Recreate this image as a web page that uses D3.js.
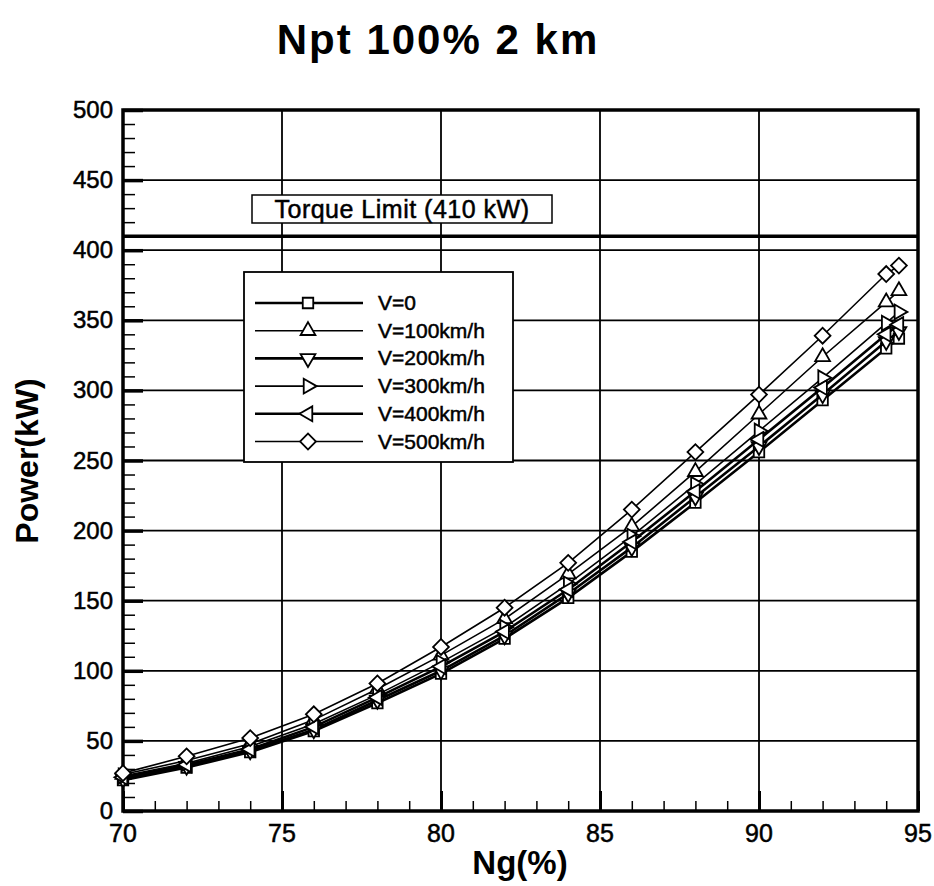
<!DOCTYPE html>
<html>
<head>
<meta charset="utf-8" />
<script src="https://cdn.jsdelivr.net/npm/d3@7"></script>
<style>
  body { margin: 0; background: #fff; }
  svg { display: block; font-family: "Liberation Sans", Arial, sans-serif; }
  .heavy { stroke: #000; stroke-width: 0.5px; }
</style>
</head>
<body>
<div id="chart-container"></div>
<script>
// Ng (%) sample points
const ng = [70, 72, 74, 76, 78, 80, 82, 84, 86, 88, 90, 92, 94, 94.4];

// Power (kW) per flight speed
const v0 = [22, 31, 42, 57, 77, 98, 123, 152, 185, 220, 256, 293, 330, 337];
const v100 = [26, 36, 48, 65, 87, 111, 137, 169, 203, 242, 283, 324, 363, 371];
const v200 = [23, 32, 43, 58, 79, 100, 125, 155, 188, 224, 260, 297, 335, 342];
const v300 = [25, 34, 46, 62, 83, 106, 131, 162, 196, 233, 271, 309, 348, 356];
const v400 = [24, 33, 44, 60, 81, 103, 128, 158, 192, 228, 265, 302, 340, 347];
const v500 = [27, 39, 52, 69, 91, 117, 145, 177, 215, 256, 297, 339, 383, 389];

const seriesNames = ["V=0", "V=100km/h", "V=200km/h", "V=300km/h", "V=400km/h", "V=500km/h"];
const seriesValues = [v0, v100, v200, v300, v400, v500];

const xTicks = [70, 75, 80, 85, 90, 95];
const yTicks = [0, 50, 100, 150, 200, 250, 300, 350, 400, 450, 500];
const torqueLimit = 410;

const W = 934,
  H = 886,
  margin = { top: 110, right: 16, bottom: 75, left: 123 };
const width = W - margin.left - margin.right,
  height = H - margin.top - margin.bottom;

const svg = d3
  .select("#chart-container")
  .append("svg")
  .attr("width", W)
  .attr("height", H);

const g = svg.append("g").attr("transform", `translate(${margin.left},${margin.top})`);

const xScale = d3.scaleLinear().domain([70, 95]).range([0, width]);
const yScale = d3.scaleLinear().domain([0, 500]).range([height, 0]);

// Title
svg
  .append("text")
  .attr("x", 438)
  .attr("y", 54)
  .attr("text-anchor", "middle")
  .style("font-size", "42px")
  .style("font-weight", "bold")
  .style("letter-spacing", "2px")
  .text("Npt 100% 2 km");

// Grid lines
g.append("g")
  .selectAll("line")
  .data(xTicks.slice(1, -1))
  .enter()
  .append("line")
  .attr("x1", (d) => xScale(d))
  .attr("x2", (d) => xScale(d))
  .attr("y1", 0)
  .attr("y2", height)
  .attr("stroke", "#000")
  .attr("stroke-width", 1.8);

g.append("g")
  .selectAll("line")
  .data(yTicks.slice(1, -1))
  .enter()
  .append("line")
  .attr("x1", 0)
  .attr("x2", width)
  .attr("y1", (d) => yScale(d))
  .attr("y2", (d) => yScale(d))
  .attr("stroke", "#000")
  .attr("stroke-width", 1.8);

// Torque limit line
g.append("line")
  .attr("x1", 0)
  .attr("x2", width)
  .attr("y1", yScale(torqueLimit))
  .attr("y2", yScale(torqueLimit))
  .attr("stroke", "#000")
  .attr("stroke-width", 3.5);

// Torque limit label box
const tl = g.append("g").attr("transform", `translate(${252 - margin.left},${195 - margin.top})`);
tl.append("rect")
  .attr("width", 300)
  .attr("height", 28)
  .attr("fill", "#fff")
  .attr("stroke", "#000")
  .attr("stroke-width", 1.5);
tl.append("text")
  .attr("class", "heavy")
  .attr("x", 150)
  .attr("y", 23)
  .attr("text-anchor", "middle")
  .style("font-size", "25px")
  .style("letter-spacing", "0.5px")
  .text("Torque Limit (410 kW)");

// Axes (ticks inside)
const xAxis = d3
  .axisBottom(xScale)
  .tickValues(d3.range(70, 96, 1))
  .tickSize(-10)
  .tickFormat("");
g.append("g")
  .attr("transform", `translate(0,${height})`)
  .call(xAxis)
  .call((a) => a.select(".domain").remove())
  .selectAll(".tick line")
  .attr("stroke-width", 1.5)
  .filter((d) => d % 5 === 0)
  .attr("y2", -20)
  .attr("stroke-width", 3);

const yAxis = d3
  .axisLeft(yScale)
  .tickValues(d3.range(0, 501, 10))
  .tickSize(-12)
  .tickFormat("");
g.append("g")
  .call(yAxis)
  .call((a) => a.select(".domain").remove())
  .selectAll(".tick line")
  .attr("stroke-width", 1.5)
  .filter((d) => d % 50 === 0)
  .attr("x2", 20)
  .attr("stroke-width", 3.5);

// Tick labels
g.append("g")
  .selectAll("text")
  .data(xTicks)
  .enter()
  .append("text")
  .attr("class", "heavy")
  .attr("x", (d) => xScale(d))
  .attr("y", height + 31)
  .attr("text-anchor", "middle")
  .style("font-size", "25px")
  .text((d) => d);

g.append("g")
  .selectAll("text")
  .data(yTicks)
  .enter()
  .append("text")
  .attr("class", "heavy")
  .attr("x", -10)
  .attr("y", (d) => yScale(d) + 8)
  .attr("text-anchor", "end")
  .style("font-size", "24px")
  .text((d) => d);

// Axis titles
svg
  .append("text")
  .attr("x", 520)
  .attr("y", 874)
  .attr("text-anchor", "middle")
  .style("font-size", "33px")
  .style("font-weight", "bold")
  .text("Ng(%)");

svg
  .append("text")
  .attr("transform", "translate(38,461) rotate(-90)")
  .attr("text-anchor", "middle")
  .style("font-size", "32px")
  .style("font-weight", "bold")
  .text("Power(kW)");

// Frame
g.append("rect")
  .attr("width", width)
  .attr("height", height)
  .attr("fill", "none")
  .attr("stroke", "#000")
  .attr("stroke-width", 3.5);

// Marker shapes per series
const markers = [
  { type: d3.symbolSquare, size: 110, rot: 0 },
  { type: d3.symbolTriangle, size: 95, rot: 0 },
  { type: d3.symbolTriangle, size: 95, rot: 180 },
  { type: d3.symbolTriangle, size: 95, rot: 90 },
  { type: d3.symbolTriangle, size: 95, rot: -90 },
  { type: d3.symbolSquare, size: 125, rot: 45 },
];
const lineWidths = [2.6, 1.6, 2.6, 1.6, 2.6, 1.6];

const line = d3
  .line()
  .x((d) => xScale(d[0]))
  .y((d) => yScale(d[1]));

seriesValues.forEach((vals, i) => {
  const pts = vals.map((v, j) => [ng[j], v]);
  g.append("path")
    .datum(pts)
    .attr("fill", "none")
    .attr("stroke", "#000")
    .attr("stroke-width", lineWidths[i])
    .attr("d", line);

  g.append("g")
    .selectAll("path")
    .data(pts)
    .enter()
    .append("path")
    .attr("d", d3.symbol().type(markers[i].type).size(markers[i].size))
    .attr("transform", (d) => `translate(${xScale(d[0])},${yScale(d[1])}) rotate(${markers[i].rot})`)
    .attr("fill", "#fff")
    .attr("stroke", "#000")
    .attr("stroke-width", 1.8);
});

// Legend
const legend = g.append("g").attr("transform", `translate(${244 - margin.left},${272 - margin.top})`);
legend
  .append("rect")
  .attr("width", 269)
  .attr("height", 190)
  .attr("fill", "#fff")
  .attr("stroke", "#000")
  .attr("stroke-width", 1.8);

seriesNames.forEach((name, i) => {
  const row = legend.append("g").attr("transform", `translate(0,${31 + i * 27.7})`);
  row.append("line")
    .attr("x1", 11)
    .attr("x2", 119)
    .attr("stroke", "#000")
    .attr("stroke-width", lineWidths[i]);
  row.append("path")
    .attr("d", d3.symbol().type(markers[i].type).size(markers[i].size))
    .attr("transform", `translate(64,0) rotate(${markers[i].rot})`)
    .attr("fill", "#fff")
    .attr("stroke", "#000")
    .attr("stroke-width", 1.8);
  row.append("text")
    .attr("class", "heavy")
    .attr("x", 134)
    .attr("y", 7)
    .style("font-size", "21px")
    .text(name);
});
</script>
</body>
</html>
